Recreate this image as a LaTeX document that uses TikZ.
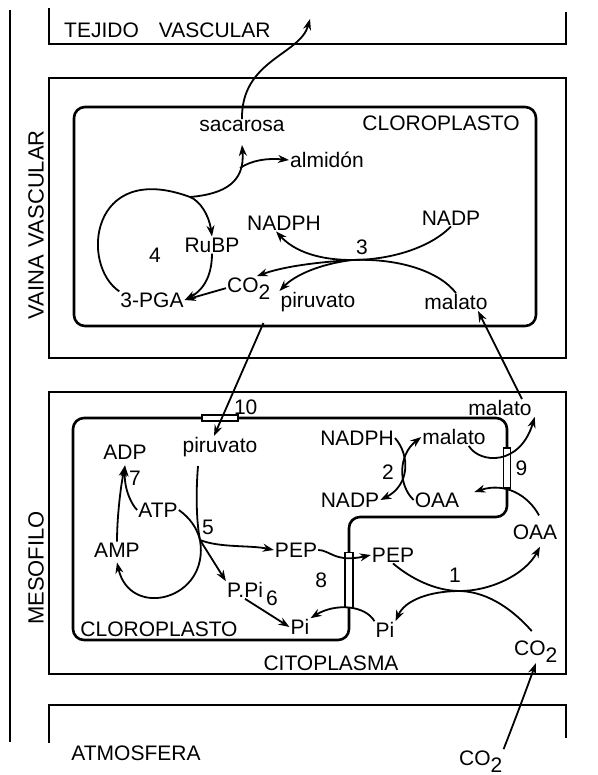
\documentclass[tikz,border=0pt]{standalone}
\usepackage{fontspec}
\setmainfont{Liberation Sans}
\usepackage{tikz}
\usetikzlibrary{arrows.meta, positioning}

\newcommand{\lowsub}[1]{\raisebox{-7pt}{#1}}

\begin{document}
\begin{tikzpicture}[
    x=1pt, y=-1pt,
    lbl/.style={font=\fontsize{21}{23}\selectfont, inner sep=1pt},
    side/.style={font=\fontsize{22}{24}\selectfont, inner sep=1pt, rotate=90},
    wall/.style={line width=2.6pt},
    membrane/.style={line width=2.6pt, rounded corners=11pt},
    carrier/.style={draw, fill=white, line width=1.6pt, inner sep=0pt},
    arrow/.style={line width=1.8pt,->,>={Stealth[length=11pt,width=8pt]}},
    link/.style={line width=1.8pt}
]
\useasboundingbox (0,0) rectangle (597,775);

% compartments
\draw [wall] (10,10) -- (10,742);
\draw [wall] (49,8) -- (49,44) -- (566,44) -- (566,12);
\draw [wall] (49,78) rectangle (566,358);
\draw [membrane] (74,107) rectangle (536,326);
\draw [wall] (49,392) rectangle (566,674);
\draw [membrane] (73,418) -- (507,418) -- (507,517) -- (349,517) -- (349,640) -- (73,640) -- cycle;
\draw [wall] (49,743) -- (49,705) -- (566,705) -- (566,738);

\node (tejido) [lbl, anchor=west] at (63,30) {TEJIDO\hspace{20pt}VASCULAR};
\node (vaina) [side] at (36,225) {VAINA\hspace{8pt}VASCULAR};
\node (mesofilo) [side] at (36,568) {MESOFILO};
\node (atmosfera) [lbl] at (136,753) {ATMOSFERA};
\node (cloroA) [lbl] at (441,123) {CLOROPLASTO};
\node (cloroB) [lbl] at (159,629) {CLOROPLASTO};
\node (citoplasma) [lbl] at (331,663) {CITOPLASMA};

% vaina vascular
\node (sacarosa) [lbl] at (242,126) {sacarosa};
\node (almidon) [lbl, anchor=west] at (289,160) {almidón};
\node (rubp) [lbl] at (212,245) {RuBP};
\node (pga) [lbl] at (152,300) {3-PGA};
\node (n4) [lbl] at (155,255) {4};
\node (nadphA) [lbl] at (284,223) {NADPH};
\node (nadpA) [lbl] at (451,218) {NADP};
\node (n3) [lbl] at (362,247) {3};
\node (cdosA) [lbl, anchor=base west] at (226,292) {CO\lowsub{2}};
\node (piruvA) [lbl] at (318,302) {piruvato};
\node (malatA) [lbl] at (456,302) {malato};

% mesofilo
\node (piruvB) [lbl] at (220,447) {piruvato};
\node (adp) [lbl] at (125,452) {ADP};
\node (atp) [lbl] at (158,510) {ATP};
\node (amp) [lbl] at (117,550) {AMP};
\node (n7) [lbl] at (135,478) {7};
\node (n5) [lbl] at (208,527) {5};
\node (pepB) [lbl] at (296,550) {PEP};
\node (ppi) [lbl] at (245,590) {P.Pi};
\node (n6) [lbl] at (272,598) {6};
\node (piB) [lbl] at (300,627) {Pi};
\node (nadphB) [lbl] at (357,438) {NADPH};
\node (malatB) [lbl] at (454,437) {malato};
\node (n2) [lbl] at (388,472) {2};
\node (nadpB) [lbl] at (350,500) {NADP};
\node (oaaB) [lbl] at (437,500) {OAA};
\node (malatC) [lbl] at (500,408) {malato};
\node (oaaC) [lbl] at (535,532) {OAA};
\node (pepC) [lbl] at (393,555) {PEP};
\node (n1) [lbl] at (455,575) {1};
\node (piC) [lbl] at (385,630) {Pi};
\node (co2C) [lbl, anchor=base west] at (513,655) {CO\lowsub{2}};
\node (co2D) [lbl, anchor=base west] at (458,765) {CO\lowsub{2}};

\node (t10) [carrier, minimum width=36pt, minimum height=6pt] at (220,418) {};
\node (t9) [carrier, minimum width=7pt, minimum height=40pt] at (507,468) {};
\node (t8) [carrier, minimum width=8pt, minimum height=55pt] at (349,580) {};
\node (n10) [lbl, above right=2pt and -6pt of t10.east] {10};
\node (n9) [lbl, right=3pt of t9] {9};
\node (n8) [lbl, left=16pt of t8] {8};

\coordinate (vasc) at (310,19);
\coordinate (j4) at (190,197);
\coordinate (jsac) at (240,168);
\coordinate (r3) at (352,260);
\coordinate (r5) at (200,540);
\coordinate (r1) at (460,591);

\draw [arrow] (sacarosa.north) .. controls (241,60) and (300,55) .. (vasc);
\draw [arrow] (pga.north west) .. controls (80,265) and (90,160) .. (j4) .. controls (200,201) and (209,215) .. (rubp.north);
\draw [arrow] (j4) .. controls (225,194) and (245,182) .. ([yshift=-12pt]sacarosa.south);
\draw [arrow] (jsac) .. controls (252,160) and (268,158) .. (almidon.west);
\draw [arrow] (rubp.south) .. controls (212,280) and (200,292) .. (pga.east);
\draw [arrow] (cdosA.west) -- (pga.east);
\draw [arrow] (nadpA.south) .. controls (430,248) and (390,260) .. (r3) .. controls (320,260) and (295,252) .. ([xshift=-8pt]nadphA.south);
\draw [link] (malatA.north) .. controls (440,272) and (400,258) .. (r3);
\draw [arrow] (r3) .. controls (320,262) and (285,266) .. ([xshift=8pt]cdosA.north);
\draw [arrow] (r3) .. controls (320,264) and (295,275) .. (piruvA.north west);

\draw [arrow] ([xshift=-16pt,yshift=-10pt]piruvA.south west) -- ([xshift=-6pt]piruvB.north);
\draw [arrow] ([xshift=22pt]malatC.north) -- ([xshift=22pt]malatA.south);

\draw [arrow] (atp.west) .. controls (132,505) and (124,490) .. ([yshift=-5pt]adp.south);
\draw [arrow] (amp.north) .. controls (117,520) and (120,490) .. ([yshift=-5pt]adp.south);
\draw [link] ([xshift=-22pt,yshift=-8pt]piruvB.south) .. controls (196,490) and (196,520) .. (r5);
\draw [arrow] (atp.east) .. controls (190,518) and (197,528) .. (r5) .. controls (210,600) and (130,620) .. ([yshift=-4pt]amp.south);
\draw [arrow] (r5) .. controls (220,548) and (250,545) .. (pepB.west);
\draw [arrow] (r5) -- (ppi.north west);
\draw [arrow] (ppi.south) -- (piB.west);
\draw [arrow] (pepB.east) .. controls (330,550) and (335,563) .. (pepC.west);

\draw [arrow] (pepC.south) .. controls (410,578) and (435,591) .. (r1) .. controls (490,591) and (525,575) .. ([xshift=5pt,yshift=-6pt]oaaC.south);
\draw [arrow] ([xshift=-4pt,yshift=8pt]co2C.north) .. controls (515,612) and (490,592) .. (r1) .. controls (430,591) and (405,600) .. (piC.north east);
\draw [arrow] (piC.north west) .. controls (365,605) and (335,603) .. (piB.north east);

\draw [arrow] (nadphB.east) .. controls (410,455) and (410,485) .. (nadpB.east);
\draw [arrow] (oaaB.west) .. controls (398,485) and (398,455) .. (malatB.west);
\draw [arrow] ([xshift=-18pt]malatB.south east) .. controls (480,464) and (520,466) .. ([xshift=2pt]malatC.south east);
\draw [arrow] ([xshift=4pt,yshift=8pt]oaaC.north) .. controls (528,495) and (505,482) .. ([xshift=14pt,yshift=8pt]oaaB.east);

\draw [arrow] (co2D.north east) .. controls (515,720) and (528,685) .. (co2C.south);
\end{tikzpicture}
\end{document}
